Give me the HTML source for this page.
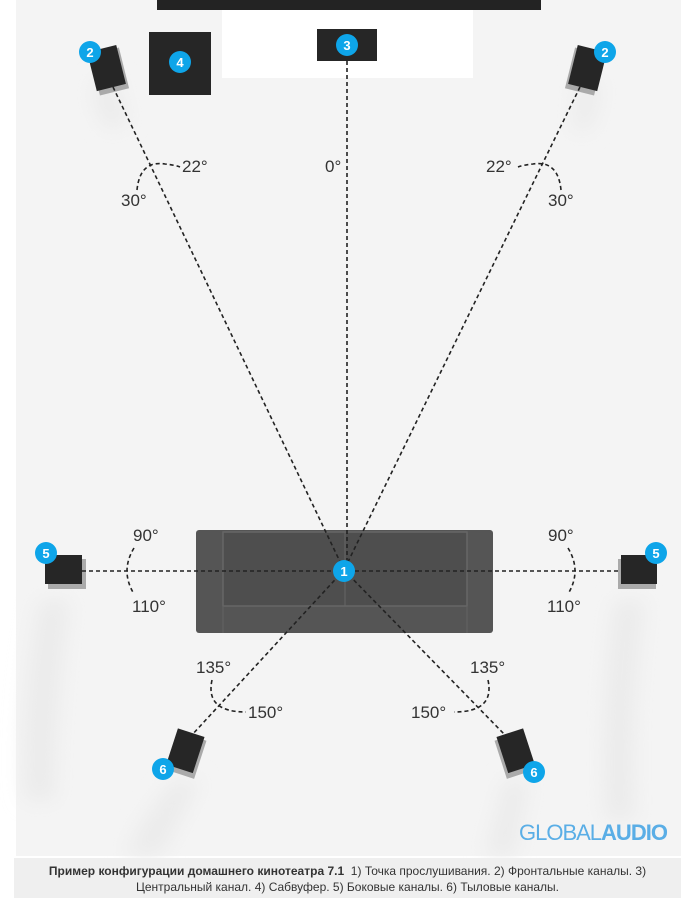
<!DOCTYPE html>
<html><head><meta charset="utf-8"><style>
body{margin:0;width:681px;height:902px;background:#fff;overflow:hidden;font-family:"Liberation Sans",sans-serif}
.cap{position:absolute;left:14px;top:858px;width:667px;height:40px;background:#efefef;text-align:center;font-size:12px;line-height:16px;color:#333;padding-top:5px;box-sizing:border-box}
</style></head><body>
<svg width="681" height="902" style="position:absolute;left:0;top:0" font-family="Liberation Sans, sans-serif">
<defs><filter id="sh" x="-100%" y="-50%" width="300%" height="200%"><feGaussianBlur stdDeviation="10"/></filter></defs>
<rect x="16" y="0" width="665" height="856" fill="#f4f4f4"/>
<!-- shadows -->
<path d="M40 600 Q20 700 25 800 L55 800 Q55 700 70 600Z" fill="#ebebeb" filter="url(#sh)"/>
<path d="M615 600 Q600 700 605 820 L635 820 Q630 700 645 600Z" fill="#ebebeb" filter="url(#sh)"/>
<path d="M175 780 Q140 820 125 856 L160 856 Q180 820 200 780Z" fill="#ebebeb" filter="url(#sh)"/>
<path d="M505 780 Q495 820 485 856 L515 856 Q520 820 530 780Z" fill="#ebebeb" filter="url(#sh)"/>
<path d="M95 80 Q90 110 110 130 L130 120 Q115 100 120 80Z" fill="#ebebeb" filter="url(#sh)"/>
<path d="M575 80 Q580 110 570 130 L590 130 Q600 100 600 80Z" fill="#ebebeb" filter="url(#sh)"/>
<rect x="157" y="0" width="384" height="10" fill="#232323"/>
<rect x="222" y="10" width="251" height="68" fill="#fff"/>
<rect x="317" y="29" width="60" height="32" fill="#262626"/>
<rect x="149" y="32" width="62" height="63" fill="#262626"/>
<g transform="translate(107,70) rotate(-14)"><rect x="-13" y="-19" width="30" height="42" fill="#aaa"/><rect x="-15" y="-22" width="30" height="40" fill="#262626"/></g>
<g transform="translate(587,70) rotate(14)"><rect x="-17" y="-19" width="30" height="42" fill="#aaa"/><rect x="-15" y="-22" width="30" height="40" fill="#262626"/></g>
<!-- sofa -->
<rect x="196" y="530" width="297" height="103" rx="3" fill="#555"/>
<rect x="223" y="532" width="244" height="74" fill="#4e4e4e" stroke="#666" stroke-width="1.5"/>
<line x1="345" y1="532" x2="345" y2="606" stroke="#666" stroke-width="1"/>
<line x1="223" y1="606" x2="223" y2="633" stroke="#626262"/>
<line x1="467" y1="606" x2="467" y2="633" stroke="#626262"/>
<!-- side speakers -->
<rect x="48" y="559" width="38" height="30" fill="#aaa"/><rect x="45" y="555" width="37" height="29" fill="#262626"/>
<rect x="618" y="559" width="38" height="30" fill="#aaa"/><rect x="621" y="555" width="36" height="29" fill="#262626"/>
<g transform="translate(186,752) rotate(18)"><rect x="-12" y="-17" width="28" height="40" fill="#aaa"/><rect x="-15" y="-20" width="28" height="38" fill="#262626"/></g>
<g transform="translate(515,752) rotate(-18)"><rect x="-16" y="-17" width="28" height="40" fill="#aaa"/><rect x="-13" y="-20" width="28" height="38" fill="#262626"/></g>
<!-- lines -->
<g stroke="#222" stroke-width="1.6" stroke-dasharray="4,3" fill="none">
<line x1="113" y1="87" x2="344" y2="570"/>
<line x1="580" y1="87" x2="344" y2="570"/>
<line x1="347" y1="61" x2="347" y2="570"/>
<line x1="82" y1="571" x2="620" y2="571"/>
<line x1="344" y1="570" x2="191" y2="736"/>
<line x1="344" y1="570" x2="506" y2="736"/>
<path d="M137 190 Q140 160 165 164 Q175 165 180 167"/>
<path d="M561 190 Q558 160 533 164 Q523 165 518 167"/>
<path d="M134 548 Q120 571 134 594"/>
<path d="M568 548 Q582 571 568 594"/>
<path d="M212 680 Q205 712 246 712"/>
<path d="M488 680 Q495 712 454 712"/>
</g>
<g font-size="17" fill="#333">
<text x="182" y="172">22°</text><text x="121" y="206">30°</text>
<text x="325" y="172">0°</text>
<text x="486" y="172">22°</text><text x="548" y="206">30°</text>
<text x="133" y="541">90°</text><text x="132" y="612">110°</text>
<text x="548" y="541">90°</text><text x="547" y="612">110°</text>
<text x="196" y="673">135°</text><text x="248" y="718">150°</text>
<text x="470" y="673">135°</text><text x="411" y="718">150°</text>
</g>
<g fill="#0ea5e9"><circle cx="347" cy="45" r="11"/><circle cx="180" cy="62" r="11"/><circle cx="90" cy="52" r="11"/><circle cx="605" cy="52" r="11"/><circle cx="344" cy="571" r="11"/><circle cx="46" cy="553" r="11"/><circle cx="656" cy="553" r="11"/><circle cx="163" cy="769" r="11"/><circle cx="534" cy="772" r="11"/></g>
<g fill="#fff" font-size="13" font-weight="bold" text-anchor="middle">
<text x="347" y="50">3</text><text x="180" y="67">4</text><text x="90" y="57">2</text><text x="605" y="57">2</text><text x="344" y="576">1</text><text x="46" y="558">5</text><text x="656" y="558">5</text><text x="163" y="774">6</text><text x="534" y="777">6</text>
</g>
<text x="519" y="840" font-size="22" fill="#5aaee6" letter-spacing="-1">GLOBAL<tspan font-weight="bold">AUDIO</tspan></text>
</svg>
<div class="cap"><b>Пример конфигурации домашнего кинотеатра 7.1</b>&nbsp; 1) Точка прослушивания. 2) Фронтальные каналы. 3)<br>Центральный канал. 4) Сабвуфер. 5) Боковые каналы. 6) Тыловые каналы.</div>
</body></html>
